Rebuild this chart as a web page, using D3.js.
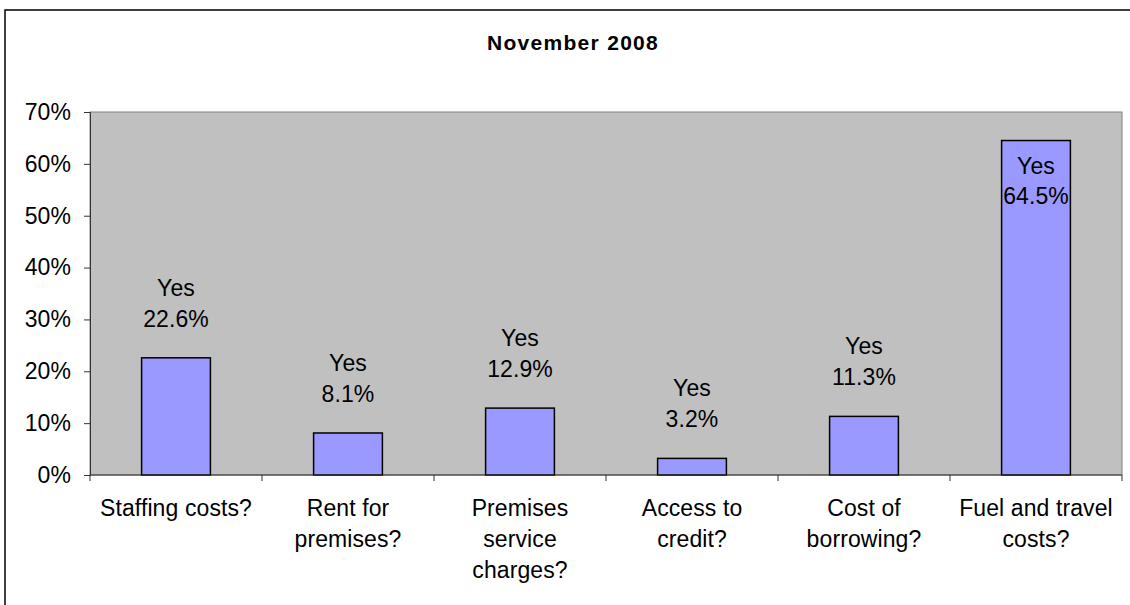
<!DOCTYPE html>
<html>
<head>
<meta charset="utf-8">
<script src="https://cdn.jsdelivr.net/npm/d3@7"></script>
<style>
  html, body { margin: 0; padding: 0; background: #ffffff; }
  svg { display: block; font-family: Arial, "Liberation Sans", sans-serif; }
</style>
</head>
<body>
<svg id="chart" width="1130" height="605"></svg>
<script>
// Survey answers: share of businesses answering "Yes" per cost question
const categories = [
  "Staffing costs?",
  "Rent for premises?",
  "Premises service charges?",
  "Access to credit?",
  "Cost of borrowing?",
  "Fuel and travel costs?"
];
const yesShare = [22.6, 8.1, 12.9, 3.2, 11.3, 64.5];
const answerLabel = "Yes";
const yTicks = [0, 10, 20, 30, 40, 50, 60, 70];
const chartTitle = "November 2008";

const svg = d3.select("#chart");
const plot = { left: 90, top: 112, right: 1122, bottom: 475 };
const fontSize = 23;
const spacing = 0.1;

// Outer chart frame
svg.append("rect")
  .attr("x", 5).attr("y", 10)
  .attr("width", 1200).attr("height", 700)
  .attr("fill", "#ffffff")
  .attr("stroke", "#000000")
  .attr("stroke-width", 1.5);

// Title
svg.append("text")
  .attr("x", 573).attr("y", 49.5)
  .attr("text-anchor", "middle")
  .attr("font-size", 21)
  .attr("font-weight", "bold")
  .attr("letter-spacing", 1.3)
  .attr("fill", "#000")
  .text(chartTitle);

const x = d3.scaleBand()
  .domain(categories)
  .range([plot.left, plot.right])
  .padding(0);

const y = d3.scaleLinear()
  .domain([0, 70])
  .range([plot.bottom, plot.top]);

// Plot area background
svg.append("rect")
  .attr("x", plot.left).attr("y", plot.top)
  .attr("width", plot.right - plot.left)
  .attr("height", plot.bottom - plot.top)
  .attr("fill", "#C0C0C0")
  .attr("stroke", "#808080")
  .attr("stroke-width", 1);

// Bars (gap width 150%)
const barW = x.bandwidth() / 2.5;
svg.append("g")
  .selectAll("rect")
  .data(categories)
  .join("rect")
  .attr("x", d => x(d) + (x.bandwidth() - barW) / 2)
  .attr("y", (d, i) => y(yesShare[i]))
  .attr("width", barW)
  .attr("height", (d, i) => y(0) - y(yesShare[i]))
  .attr("fill", "#9999FF")
  .attr("stroke", "#000000")
  .attr("stroke-width", 1.5);

// Y axis
const yAxis = d3.axisLeft(y)
  .tickValues(yTicks)
  .tickFormat(d => d + "%")
  .tickSize(6)
  .tickPadding(13);
const gy = svg.append("g")
  .attr("transform", `translate(${plot.left},0)`)
  .call(yAxis);
gy.select(".domain").attr("stroke", "#333").attr("stroke-width", 1);
gy.selectAll(".tick line").attr("stroke", "#333");
gy.selectAll(".tick text")
  .attr("font-size", fontSize)
  .attr("font-family", "Arial, 'Liberation Sans', sans-serif")
  .attr("letter-spacing", spacing)
  .attr("fill", "#000");

// X axis: ticks at category boundaries
const gx = svg.append("g");
gx.append("line")
  .attr("x1", plot.left).attr("x2", plot.right)
  .attr("y1", plot.bottom).attr("y2", plot.bottom)
  .attr("stroke", "#333").attr("stroke-width", 1);
const boundaries = categories.map(c => x(c)).concat([x(categories[categories.length - 1]) + x.bandwidth()]);
gx.selectAll("line.tick")
  .data(boundaries)
  .join("line")
  .attr("class", "tick")
  .attr("x1", d => d).attr("x2", d => d)
  .attr("y1", plot.bottom).attr("y2", plot.bottom + 6)
  .attr("stroke", "#333");

// Category labels, wrapped to the category width
const lineGap = 31;
const wrapWidth = 160;
categories.forEach(cat => {
  const t = gx.append("text")
    .attr("text-anchor", "middle")
    .attr("font-size", fontSize)
    .attr("letter-spacing", spacing)
    .attr("fill", "#000");
  const words = cat.split(" ");
  let lines = [];
  let current = [];
  const probe = t.append("tspan");
  words.forEach(w => {
    const trial = current.concat([w]).join(" ");
    probe.text(trial);
    if (current.length && probe.node().getComputedTextLength() > wrapWidth) {
      lines.push(current.join(" "));
      current = [w];
    } else {
      current.push(w);
    }
  });
  lines.push(current.join(" "));
  probe.remove();
  const cx = x(cat) + x.bandwidth() / 2;
  lines.forEach((ln, k) => {
    t.append("tspan")
      .attr("x", cx)
      .attr("y", plot.bottom + 41 + k * lineGap)
      .text(ln);
  });
});

// Value labels: above the bar, or inside its top when no room above
const lg = svg.append("g");
categories.forEach((cat, i) => {
  const v = yesShare[i];
  const top = y(v);
  const cx = x(cat) + x.bandwidth() / 2;
  let b1, b2;
  if (top - 2 * lineGap - 18 < plot.top) {
    b1 = top + 33;
    b2 = b1 + 30;
  } else {
    b2 = top - 31;
    b1 = b2 - lineGap;
  }
  const t = lg.append("text")
    .attr("text-anchor", "middle")
    .attr("font-size", fontSize)
    .attr("letter-spacing", spacing)
    .attr("fill", "#000");
  t.append("tspan").attr("x", cx).attr("y", b1).text(answerLabel);
  t.append("tspan").attr("x", cx).attr("y", b2).text(v.toFixed(1) + "%");
});
</script>
</body>
</html>
